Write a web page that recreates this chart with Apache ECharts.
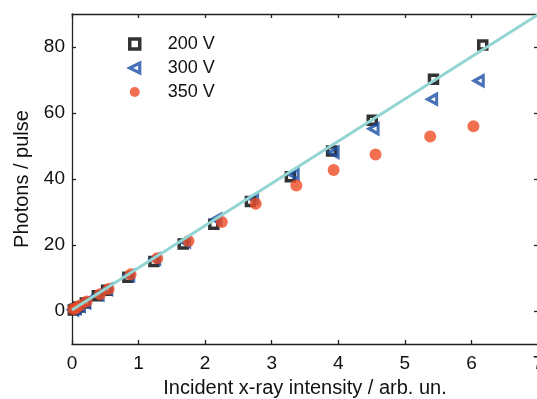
<!DOCTYPE html>
<html>
<head>
<meta charset="utf-8">
<script src="https://cdn.jsdelivr.net/npm/echarts@6/dist/echarts.min.js"></script>
<style>html,body{margin:0;padding:0;background:#fff;}#c{width:537px;height:399px;}</style>
</head>
<body>
<div id="c"></div>
<script>
const xTicks = [0, 1, 2, 3, 4, 5, 6, 7];
const yTicks = [0, 20, 40, 60, 80];
const seriesNames = ['200 V', '300 V', '350 V'];
const v200 = [[0.02,0.3],[0.05,0.6],[0.1,1.2],[0.2,2.4],[0.38,4.6],[0.52,6.3],[0.84,10.2],[1.23,15.0],[1.67,20.3],[2.13,26.3],[2.68,33.2],[3.28,40.7],[3.9,48.5],[4.51,57.8],[5.43,70.2],[6.17,80.6]];
const v300 = [[0.02,0.4],[0.06,0.8],[0.12,1.5],[0.2,2.6],[0.4,4.9],[0.53,6.6],[0.86,10.8],[1.25,15.8],[1.7,21.0],[2.17,27.8],[2.72,34.2],[3.33,41.4],[3.93,48.1],[4.53,55.2],[5.41,64.2],[6.11,69.8]];
const v350 = [[0.02,0.5],[0.06,0.9],[0.12,1.7],[0.22,2.9],[0.42,5.1],[0.55,6.7],[0.88,11.1],[1.28,16.0],[1.75,21.2],[2.25,27.0],[2.76,32.5],[3.37,38.0],[3.93,42.7],[4.56,47.4],[5.38,52.9],[6.03,56.0]];
const fitLine = [[0, 0.3], [7, 89.8]];

const FONT = "'Liberation Sans', Arial, sans-serif";
const chart = echarts.init(document.getElementById('c'), null, {renderer: 'canvas'});
const axisLineStyle = {color: '#222', width: 1.3};
const yLabelFmt = v => (yTicks.indexOf(v) >= 0 ? String(v) : '');
const hollow = 'rgba(255,255,255,0)';
chart.setOption({
  animation: false,
  backgroundColor: '#fff',
  textStyle: {fontFamily: FONT},
  grid: {left: 72, top: 14, width: 466, height: 330, containLabel: false, outerBoundsMode: 'none'},
  legend: {
    orient: 'vertical', left: 123, top: 30,
    itemWidth: 10, itemHeight: 10, itemGap: 6,
    textStyle: {fontSize: 18, color: '#111', fontFamily: FONT, padding: [0, 0, 0, 23]},
    data: [
      {name: seriesNames[0], itemStyle: {color: hollow, borderColor: '#000', borderWidth: 3.5}},
      {name: seriesNames[1], itemStyle: {color: hollow, borderColor: '#1a4fa6', borderWidth: 3.2}},
      {name: seriesNames[2], itemStyle: {color: '#ef4b24', borderWidth: 0}}
    ]
  },
  xAxis: [{
    type: 'value', min: 0, max: 7, interval: 1,
    name: 'Incident x-ray intensity / arb. un.', nameLocation: 'middle', nameGap: 34,
    nameTextStyle: {fontSize: 20, color: '#111', fontFamily: FONT},
    axisLine: {show: true, onZero: false, lineStyle: axisLineStyle},
    axisTick: {show: true, inside: true, length: 4, lineStyle: axisLineStyle},
    axisLabel: {fontSize: 19, color: '#111', margin: 10, fontFamily: FONT, showMaxLabel: true},
    splitLine: {show: false}
  }, {
    type: 'value', min: 0, max: 7, interval: 1, position: 'top',
    axisLine: {show: true, onZero: false, lineStyle: axisLineStyle},
    axisTick: {show: true, inside: true, length: 4, lineStyle: axisLineStyle},
    axisLabel: {show: false}, splitLine: {show: false}
  }],
  yAxis: [{
    type: 'value', min: -10, max: 90, interval: 10,
    name: 'Photons / pulse', nameLocation: 'middle', nameGap: 40,
    nameTextStyle: {fontSize: 20, color: '#111', fontFamily: FONT},
    axisLine: {show: true, onZero: false, lineStyle: axisLineStyle},
    axisTick: {show: true, inside: true, length: 4, lineStyle: axisLineStyle, customValues: yTicks},
    axisLabel: {fontSize: 19, color: '#111', margin: 7, fontFamily: FONT, formatter: yLabelFmt, customValues: yTicks},
    splitLine: {show: false}
  }, {
    type: 'value', min: -10, max: 90, interval: 10, position: 'right',
    axisLine: {show: true, onZero: false, lineStyle: axisLineStyle},
    axisTick: {show: true, inside: true, length: 4, lineStyle: axisLineStyle, customValues: yTicks},
    axisLabel: {show: false}, splitLine: {show: false}
  }],
  series: [{
    name: seriesNames[0], type: 'scatter', data: v200, z: 2,
    symbol: 'rect', symbolSize: 8,
    itemStyle: {color: hollow, borderColor: '#000', borderWidth: 3.5}
  }, {
    name: seriesNames[1], type: 'scatter', data: v300, z: 3,
    symbol: 'path://M0,5L10,0L10,10Z', symbolSize: [9, 10], symbolKeepAspect: false,
    itemStyle: {color: hollow, borderColor: '#1a4fa6', borderWidth: 3.2}
  }, {
    name: seriesNames[2], type: 'scatter', data: v350, z: 4,
    symbol: 'circle', symbolSize: 12,
    itemStyle: {color: '#ef4b24'}
  }, {
    name: 'fit', type: 'line', data: fitLine, z: 5,
    symbol: 'none', lineStyle: {color: '#92d5d2', width: 3}, silent: true
  }]
});
</script>
</body>
</html>
